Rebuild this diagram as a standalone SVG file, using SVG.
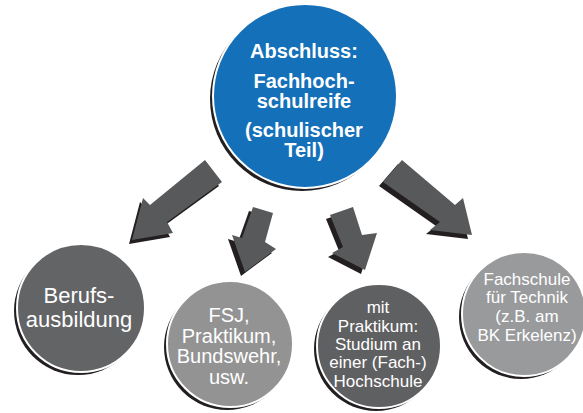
<svg xmlns="http://www.w3.org/2000/svg" width="583" height="413" viewBox="0 0 583 413">
<style>
.sh{fill:#231f20}
.ar{fill:#58595b}
.ring{stroke:#ffffff;stroke-width:2}
.t{font-family:"Liberation Sans",Arial,sans-serif;fill:#ffffff;text-anchor:middle}
.tb{font-weight:bold;font-size:20px}
</style>
<rect width="583" height="413" fill="#ffffff"/>
<g id="connectors">
<g id="arrow1">
<polygon class="sh" transform="translate(-3,4)" points="205,160 222,182 167,222 173,233 132,240 143,198 150,205"/>
<polygon class="ar" points="205,160 222,182 167,222 173,233 132,240 143,198 150,205"/>
</g>
<g id="arrow2">
<polygon class="sh" transform="translate(-4,4)" points="253,207 273,213 265,242 276,249 245,272 232,235 242,238"/>
<polygon class="ar" points="253,207 273,213 265,242 276,249 245,272 232,235 242,238"/>
</g>
<g id="arrow3">
<polygon class="sh" transform="translate(-4,4)" points="330,215 353,207 362,235 377,233 365,270 332,253 343,247"/>
<polygon class="ar" points="330,215 353,207 362,235 377,233 365,270 332,253 343,247"/>
</g>
<g id="arrow4">
<polygon class="sh" transform="translate(-4,4)" points="383,182 402,160 455,205 463,198 472,235 430,230 440,222"/>
<polygon class="ar" points="383,182 402,160 455,205 463,198 472,235 430,230 440,222"/>
</g>
</g>
<g id="center">
<circle class="sh" cx="302" cy="99" r="92"/>
<circle class="ring" cx="305" cy="96" r="92" fill="#1470b8"/>
<text class="t tb" x="304" y="58">Abschluss:</text>
<text class="t tb" x="304" y="88">Fachhoch-</text>
<text class="t tb" x="304" y="108">schulreife</text>
<text class="t tb" x="304" y="137">(schulischer</text>
<text class="t tb" x="304" y="157">Teil)</text>
</g>
<g id="node1">
<circle class="sh" cx="78" cy="311" r="64"/>
<circle class="ring" cx="81" cy="308" r="64" fill="#636466"/>
<text class="t" font-size="22" x="79" y="303">Berufs-</text>
<text class="t" font-size="22" x="79" y="327">ausbildung</text>
</g>
<g id="node2">
<circle class="sh" cx="227" cy="347" r="63"/>
<circle class="ring" cx="230" cy="344" r="63" fill="#939393"/>
<text class="t" font-size="20" x="229" y="322">FSJ,</text>
<text class="t" font-size="20" x="229" y="342.5">Praktikum,</text>
<text class="t" font-size="20" x="229" y="363">Bundswehr,</text>
<text class="t" font-size="20" x="229" y="383.5">usw.</text>
</g>
<g id="node3">
<circle class="sh" cx="376" cy="349" r="62"/>
<circle class="ring" cx="379" cy="346" r="62" fill="#5f6062"/>
<text class="t" font-size="17" x="378" y="313">mit</text>
<text class="t" font-size="17" x="378" y="332">Praktikum:</text>
<text class="t" font-size="17" x="378" y="350">Studium an</text>
<text class="t" font-size="17" x="378" y="368">einer (Fach-)</text>
<text class="t" font-size="17" x="378" y="387">Hochschule</text>
</g>
<g id="node4">
<circle class="sh" cx="521" cy="317" r="62"/>
<circle class="ring" cx="524" cy="314" r="62" fill="#999a9c"/>
<text class="t" font-size="17" x="527" y="285">Fachschule</text>
<text class="t" font-size="17" x="527" y="303">für Technik</text>
<text class="t" font-size="17" x="527" y="322">(z.B. am</text>
<text class="t" font-size="17" x="527" y="341">BK Erkelenz)</text>
</g>
</svg>
